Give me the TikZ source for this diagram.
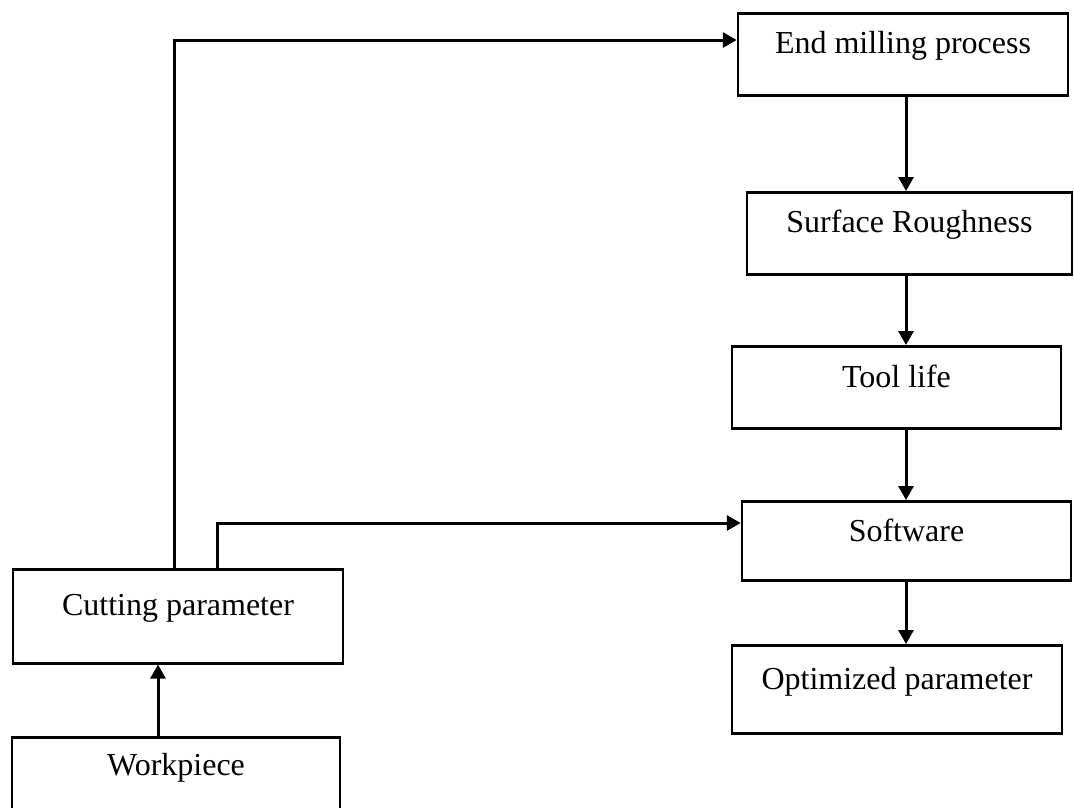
\documentclass[tikz,border=0pt]{standalone}
\usepackage{fontspec}
\setmainfont{Liberation Serif}
\usetikzlibrary{arrows.meta}
\begin{document}
\begin{tikzpicture}[x=1pt,y=-1pt,
  box/.style={draw, line width=2.5pt, inner sep=0pt, anchor=north,
    font=\fontsize{32}{36}\selectfont, align=center},
  arr/.style={line width=3pt, -{Triangle[length=14pt,width=15pt]}}]
\useasboundingbox (0,0) rectangle (1074,807);
\clip (0,0) rectangle (1074,807);
\node[box, minimum width=330pt, text height=40pt, text depth=42pt] (e) at (903,12) {End milling process};
\node[box, minimum width=325pt, text height=40pt, text depth=42pt] (r) at (909.5,191) {Surface Roughness};
\node[box, minimum width=329pt, text height=41pt, text depth=41pt] (t) at (896.5,345) {Tool life};
\node[box, minimum width=329pt, text height=40pt, text depth=39pt] (s) at (906.5,500) {Software};
\node[box, minimum width=330pt, text height=44pt, text depth=44pt] (o) at (897,644) {Optimized parameter};
\node[box, minimum width=330pt, text height=46pt, text depth=48pt] (c) at (178,568) {Cutting parameter};
\node[box, minimum width=328pt, text height=38pt, text depth=60pt] (w) at (176,736) {Workpiece};
\coordinate (xa) at (158,0);
\coordinate (xb) at (174,40);
\coordinate (xc) at (217,523);
\coordinate (xd) at (906,0);
\draw[arr] (w.north -| xa) -- (c.south -| xa);
\draw[arr] (c.north -| xb) |- (e.west |- xb);
\draw[arr] (c.north -| xc) |- (s.west |- xc);
\draw[arr] (e.south -| xd) -- (r.north -| xd);
\draw[arr] (r.south -| xd) -- (t.north -| xd);
\draw[arr] (t.south -| xd) -- (s.north -| xd);
\draw[arr] (s.south -| xd) -- (o.north -| xd);
\end{tikzpicture}
\end{document}
